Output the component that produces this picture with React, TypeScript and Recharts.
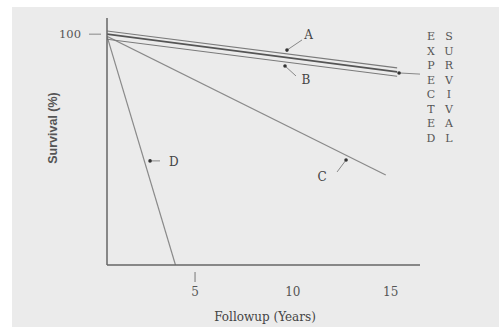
import { LineChart, Line, XAxis, YAxis, ReferenceDot, ReferenceLine } from "recharts"

// line end points (years, survival %)
const expectedData = [
  { t: 0.5, s: 100 },
  { t: 15.33, s: 83.7 },
]
const lineA = [
  { t: 0.5, s: 101.4 },
  { t: 15.33, s: 85.4 },
]
const lineB = [
  { t: 0.5, s: 97.8 },
  { t: 15.33, s: 81.8 },
]
const lineC = [
  { t: 0.5, s: 99.1 },
  { t: 14.75, s: 39 },
]
const lineD = [
  { t: 0.5, s: 99.1 },
  { t: 4.0, s: 0 },
]

const xTicks = [5, 10, 15]
const yTicks = [100]

// callout labels: dot on the curve, end of leader, label anchor
const callouts = [
  { name: "A", dot: [9.7, 93.1], lead: [10.47, 97.5], text: [10.8, 99.6] },
  { name: "B", dot: [9.6, 86.2], lead: [10.16, 81.9], text: [10.67, 80.2] },
  { name: "C", dot: [12.72, 45.5], lead: [12.26, 40.3], text: [11.49, 38.2] },
  { name: "D", dot: [2.7, 45.1], lead: [3.21, 45.1], text: [3.92, 44.7] },
]
const expectedDot = [15.43, 83.2]
const expectedLead = [16.5, 82.7]
const sideWords = ["EXPECTED", "SURVIVAL"]

const serif = "'DejaVu Serif', serif"

function XTick(props: any) {
  const { x, y, payload } = props
  return (
    <g>
      {payload.value === 5 && <line x1={x} y1={y - 1} x2={x} y2={y + 9} stroke="#777" strokeWidth={1} />}
      <text x={x} y={y + 23} textAnchor="middle" fontFamily={serif} fontSize={12} fill="#555">
        {payload.value}
      </text>
    </g>
  )
}

function YTick(props: any) {
  const { x, y, payload } = props
  return (
    <g>
      <line x1={x - 10} y1={y} x2={x + 2} y2={y} stroke="#888" strokeWidth={1} />
      <text x={x - 18} y={y + 4} textAnchor="end" fontFamily={serif} fontSize={11.5} fill="#555">
        {payload.value}
      </text>
    </g>
  )
}

export default function App() {
  return (
    <div style={{ position: "absolute", left: 0, top: 0, width: 499, height: 327, background: "#fff", overflow: "hidden" }}>
      <div style={{ position: "absolute", left: 12, top: 7, width: 487, height: 320, background: "#ebebeb" }} />
      <div style={{ position: "absolute", left: 0, top: 0 }}>
        <LineChart width={499} height={327} margin={{ top: 18, right: 79, bottom: 0, left: 0 }}>
          <XAxis
            type="number"
            dataKey="t"
            domain={[0.5, 16.5]}
            ticks={xTicks}
            tick={<XTick />}
            tickLine={false}
            axisLine={{ stroke: "#666", strokeWidth: 1.5 }}
            height={62}
            allowDataOverflow
          />
          <YAxis
            type="number"
            dataKey="s"
            domain={[0, 107]}
            ticks={yTicks}
            tick={<YTick />}
            tickLine={false}
            axisLine={{ stroke: "#666", strokeWidth: 1.5 }}
            width={107}
            allowDataOverflow
          />
          <Line data={lineC} dataKey="s" stroke="#8a8a8a" strokeWidth={1.2} dot={false} isAnimationActive={false} />
          <Line data={lineD} dataKey="s" stroke="#8a8a8a" strokeWidth={1.2} dot={false} isAnimationActive={false} />
          <Line data={lineA} dataKey="s" stroke="#7a7a7a" strokeWidth={1.1} dot={false} isAnimationActive={false} />
          <Line data={lineB} dataKey="s" stroke="#7a7a7a" strokeWidth={1.1} dot={false} isAnimationActive={false} />
          <Line data={expectedData} dataKey="s" stroke="#555" strokeWidth={1.8} dot={false} isAnimationActive={false} />
          {callouts.map((c) => (
            <ReferenceLine
              key={"l" + c.name}
              segment={[
                { x: c.dot[0], y: c.dot[1] },
                { x: c.lead[0], y: c.lead[1] },
              ]}
              stroke="#888"
              strokeWidth={1}
              ifOverflow="visible"
            />
          ))}
          {callouts.map((c) => (
            <ReferenceDot key={"d" + c.name} x={c.dot[0]} y={c.dot[1]} r={1.8} fill="#333" stroke="none" ifOverflow="visible" />
          ))}
          {callouts.map((c) => (
            <ReferenceDot
              key={"t" + c.name}
              x={c.text[0]}
              y={c.text[1]}
              r={0}
              fill="none"
              stroke="none"
              ifOverflow="visible"
              label={{ value: c.name, position: "center", fontFamily: serif, fontSize: 12, fill: "#444" }}
            />
          ))}
          <ReferenceLine
            segment={[
              { x: expectedDot[0], y: expectedDot[1] },
              { x: expectedLead[0], y: expectedLead[1] },
            ]}
            stroke="#888"
            strokeWidth={1}
            ifOverflow="visible"
          />
          <ReferenceDot x={expectedDot[0]} y={expectedDot[1]} r={1.8} fill="#333" stroke="none" ifOverflow="visible" />
        </LineChart>
      </div>
      {sideWords.map((w, i) => (
        <div
          key={w}
          style={{
            position: "absolute",
            left: 424 + i * 18,
            top: 30,
            width: 14,
            fontFamily: serif,
            fontSize: 11,
            lineHeight: "14.5px",
            color: "#555",
            textAlign: "center",
          }}
        >
          {w.split("").map((ch, j) => (
            <div key={j}>{ch}</div>
          ))}
        </div>
      ))}
      <div
        style={{
          position: "absolute",
          left: 195,
          top: 310,
          width: 140,
          textAlign: "center",
          fontFamily: serif,
          fontSize: 12,
          color: "#444",
        }}
      >
        Followup (Years)
      </div>
      <div
        style={{
          position: "absolute",
          left: 53,
          top: 128,
          transform: "translate(-50%, -50%) rotate(-90deg)",
          whiteSpace: "nowrap",
          fontFamily: "'Liberation Sans', Arial, sans-serif",
          fontWeight: "bold",
          fontSize: 12.5,
          color: "#555",
        }}
      >
        Survival (%)
      </div>
    </div>
  )
}
